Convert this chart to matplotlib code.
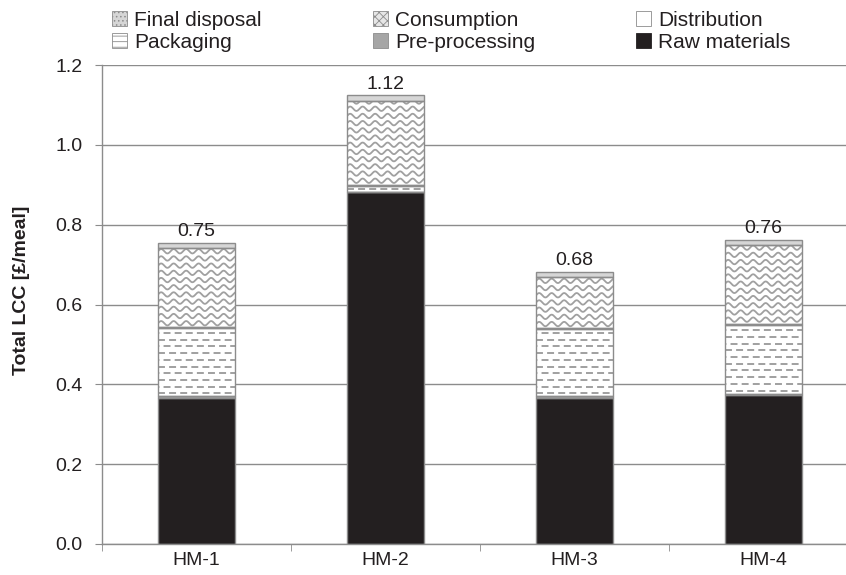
import numpy as np
import matplotlib
matplotlib.use("Agg")
import matplotlib.pyplot as plt
from matplotlib.patches import Patch

plt.rcParams['font.family'] = ['Liberation Sans', 'DejaVu Sans']
plt.rcParams['lines.scale_dashes'] = False
plt.rcParams['hatch.linewidth'] = 0.6

# data (GBP per meal)
models = ['HM-1', 'HM-2', 'HM-3', 'HM-4']
raw_materials = [0.367, 0.881, 0.367, 0.374]
pre_processing = [0.003, 0.002, 0.003, 0.003]
packaging = [0.170, 0.015, 0.168, 0.172]
distribution = [0.003, 0.002, 0.003, 0.003]
consumption = [0.199, 0.210, 0.128, 0.197]
final_disposal = [0.012, 0.014, 0.012, 0.013]
y_ticks = [0.0, 0.2, 0.4, 0.6, 0.8, 1.0, 1.2]

txt = '#231f20'
grey = '#8c8c8c'
pat = '#a0a0a0'

W, H = 846, 575
fig = plt.figure(figsize=(W / 100, H / 100), dpi=100)
ax = fig.add_axes([102 / W, 31 / H, 756 / W, 479 / H])
ax.set_xlim(-0.5, 3.5)
ax.set_ylim(0, 1.2)

x = np.arange(len(models))
bw = 0.407
ax_w = 756.0
ax_h = 479.0
dx = 4.0 / ax_w   # data units per pixel
dy = 1.2 / ax_h

segments = [
    ('Raw materials', raw_materials, txt),
    ('Pre-processing', pre_processing, '#a6a6a6'),
    ('Packaging', packaging, 'white'),
    ('Distribution', distribution, 'white'),
    ('Consumption', consumption, 'white'),
    ('Final disposal', final_disposal, '#d6d6d6'),
]

bottom = np.zeros(len(models))
bars = {}
for name, vals, col in segments:
    vals = np.array(vals)
    b = ax.bar(x, vals, bw, bottom=bottom, color=col, linewidth=0, zorder=2)
    ax.bar(x, vals, bw, bottom=bottom, fill=False, edgecolor=grey,
           linewidth=1.0, zorder=4)
    bars[name] = (b, bottom.copy(), vals)
    bottom = bottom + vals
totals = bottom

# wavy pattern for consumption
b, bots, vals = bars['Consumption']
for i, patch in enumerate(b.patches):
    left = x[i] - bw / 2
    xs = np.linspace(left, left + bw, 300)
    y0 = bots[i] + 4 * dy
    while y0 < bots[i] + vals[i]:
        ys = y0 + 2.2 * dy * np.sin(2 * np.pi * (xs - left) / (12.5 * dx))
        ln, = ax.plot(xs, ys, color=pat, lw=1.3, zorder=3)
        ln.set_clip_path(patch)
        y0 += 7.2 * dy

# dashed pattern for packaging
b, bots, vals = bars['Packaging']
for i, patch in enumerate(b.patches):
    left = x[i] - bw / 2
    y0 = bots[i] + 3 * dy
    k = 0
    while y0 < bots[i] + vals[i]:
        off = 0 if k % 2 == 0 else 4
        ln, = ax.plot([left, left + bw], [y0, y0], color=pat, lw=1.4,
                      linestyle=(off, (5, 3)), zorder=3)
        ln.set_clip_path(patch)
        y0 += 6.7 * dy
        k += 1

# totals above bars
for i, t in enumerate(totals):
    ax.annotate('{:.2f}'.format(t), (x[i], t), xytext=(0, 2),
                textcoords='offset points', ha='center', va='bottom',
                fontsize=14, color=txt)

ax.set_yticks(y_ticks)
ax.set_yticklabels(['{:.1f}'.format(v) for v in y_ticks])
ax.yaxis.grid(True, color=grey, lw=1.0, zorder=0)
ax.set_axisbelow(True)
ax.tick_params(axis='y', length=5, color=grey, labelsize=14, labelcolor=txt, pad=9)
ax.set_xticks(x)
ax.set_xticklabels(models)
ax.set_xticks(np.arange(-0.5, 4.0, 1.0), minor=True)
ax.tick_params(axis='x', which='major', length=0, labelsize=14, labelcolor=txt, pad=6)
ax.tick_params(axis='x', which='minor', length=5, color=grey)
for s in ['top', 'right']:
    ax.spines[s].set_visible(False)
for s in ['left', 'bottom']:
    ax.spines[s].set_color(grey)
    ax.spines[s].set_linewidth(1.0)

fig.text(22 / W, 1 - 290 / H, 'Total LCC [£/meal]', rotation=90, ha='center',
         va='center', fontsize=14, fontweight='bold', color=txt)

# legend, three columns placed like the original
leg_handles = {
    'Final disposal': Patch(facecolor='#d6d6d6', edgecolor=grey, hatch='....', lw=0.6),
    'Packaging': Patch(facecolor='white', edgecolor=grey, hatch='---', lw=0.6),
    'Consumption': Patch(facecolor='#e6e6e6', edgecolor=grey, hatch='xxxx', lw=0.6),
    'Pre-processing': Patch(facecolor='#a6a6a6', edgecolor=grey, lw=0.6),
    'Distribution': Patch(facecolor='white', edgecolor=grey, lw=0.6),
    'Raw materials': Patch(facecolor=txt, edgecolor=txt, lw=0.6),
}
columns = [['Final disposal', 'Packaging'], ['Consumption', 'Pre-processing'],
           ['Distribution', 'Raw materials']]
col_x = [112, 373, 636]
for cx, names in zip(col_x, columns):
    fig.legend([leg_handles[n] for n in names], names, loc='upper left',
               bbox_to_anchor=(cx / W, 1 - 11 / H), frameon=False, borderpad=0,
               borderaxespad=0, handlelength=0.7, handleheight=0.7,
               handletextpad=0.35, labelspacing=0.12, fontsize=15,
               labelcolor=txt)

fig.savefig('out.png', dpi=100)
